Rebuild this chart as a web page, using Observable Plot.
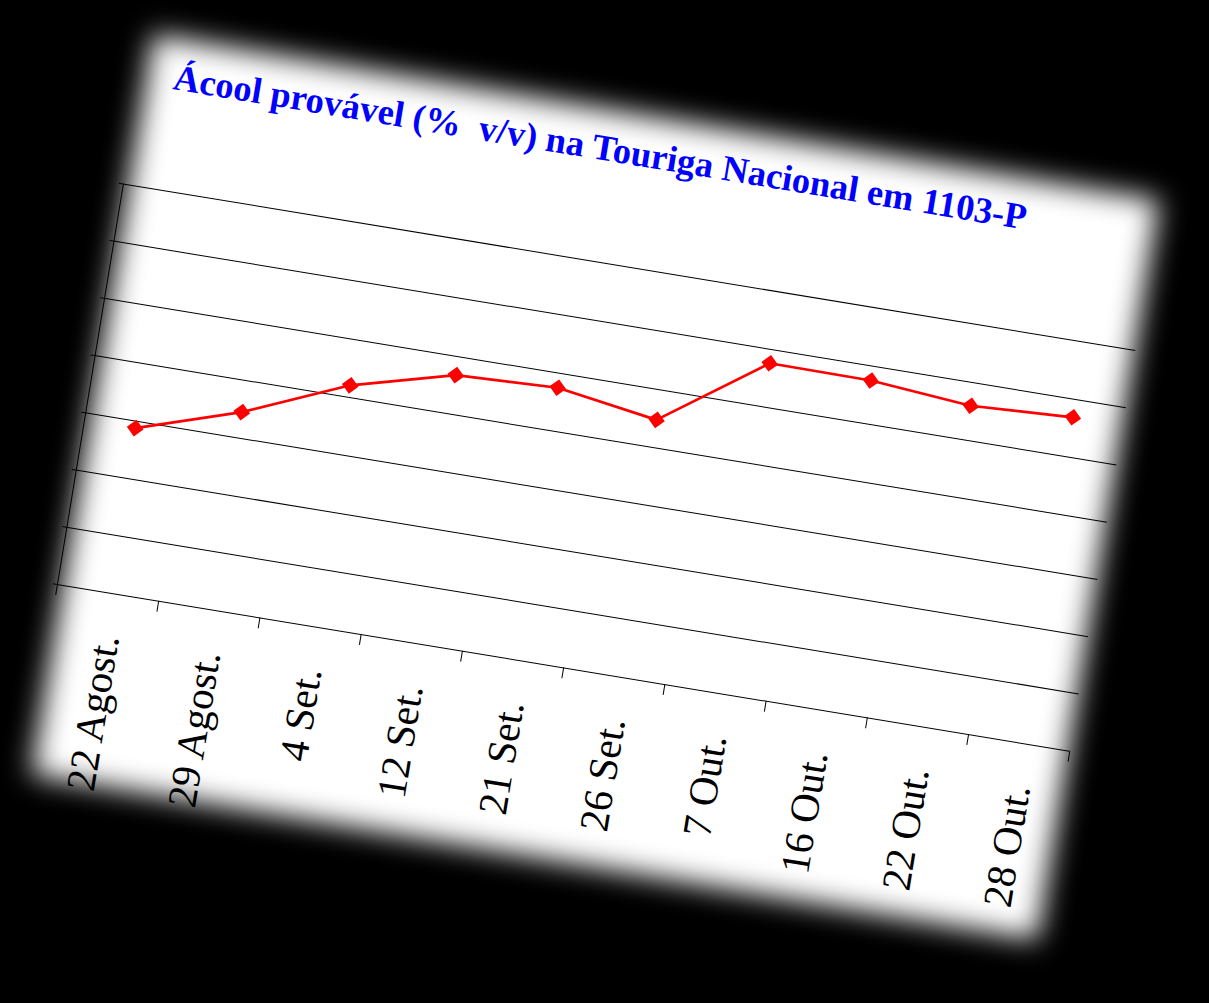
<!DOCTYPE html>
<html><head><meta charset="utf-8">
<script src="https://cdn.jsdelivr.net/npm/d3@7"></script>
<script src="https://cdn.jsdelivr.net/npm/@observablehq/plot@0.6"></script>
<style>
html,body{margin:0;padding:0;background:#000;width:1209px;height:1003px;overflow:hidden;}
#card{position:absolute;left:34.7px;top:-1.7px;width:1075px;height:806px;
  transform-origin:22px 586px;transform:rotate(9.35deg);}
#bg{position:absolute;left:28px;top:28px;width:1019px;height:750px;background:#fff;filter:blur(14px);}
#title{position:absolute;left:55px;top:49.4px;font:bold 36.5px "Liberation Serif","Times New Roman",serif;color:#0000ff;white-space:pre;line-height:1;margin:0;}
#chart{position:absolute;left:0;top:170px;}
</style></head>
<body>
<div id="card">
  <div id="bg"></div>
  <div id="title">Ácool provável (%  v/v) na Touriga Nacional em 1103-P</div>
  <div id="chart"></div>
</div>
<script>
const dates = ["22 Agost.","29 Agost.","4 Set.","12 Set.","21 Set.","26 Set.","7 Out.","16 Out.","22 Out.","28 Out."];
const alcohol = [10.88, 11.45, 12.21, 12.68, 12.75, 12.48, 13.76, 13.75, 13.60, 13.69];
const yTicks = [8, 9, 10, 11, 12, 13, 14, 15];

const data = dates.map((d, i) => ({pos: i + 0.5, date: d, value: alcohol[i]}));
const bounds = d3.range(dates.length + 1);
const serif = '"Liberation Serif","Times New Roman",serif';

const chart = Plot.plot({
  width: 1075, height: 636,
  marginLeft: 22, marginRight: 27, marginTop: 10, marginBottom: 220,
  x: {domain: [0, dates.length], axis: null},
  y: {domain: [yTicks[0], yTicks[yTicks.length - 1]], axis: null},
  style: {background: "transparent", overflow: "visible"},
  marks: [
    Plot.gridY(yTicks, {stroke: "#000", strokeOpacity: 1, strokeWidth: 1}),
    Plot.axisY({ticks: yTicks, tickSize: 4, tickFormat: () => "", label: null, stroke: "#000"}),
    Plot.ruleX([0], {stroke: "#000"}),
    Plot.axisX({ticks: bounds, tickSize: 11, tickFormat: () => "", label: null, stroke: "#000"}),
    Plot.text(data, {x: "pos", text: "date", frameAnchor: "bottom", rotate: -90,
      textAnchor: "end", lineAnchor: "middle", dy: 42, dx: 5,
      fontSize: 41, fontFamily: serif, fill: "#000"}),
    Plot.line(data, {x: "pos", y: "value", stroke: "#ff0000", strokeWidth: 2.7}),
    Plot.dot(data, {x: "pos", y: "value", symbol: "diamond2", r: 7.6, fill: "#ff0000", stroke: "none"})
  ]
});
document.getElementById("chart").appendChild(chart);
</script>
</body></html>
